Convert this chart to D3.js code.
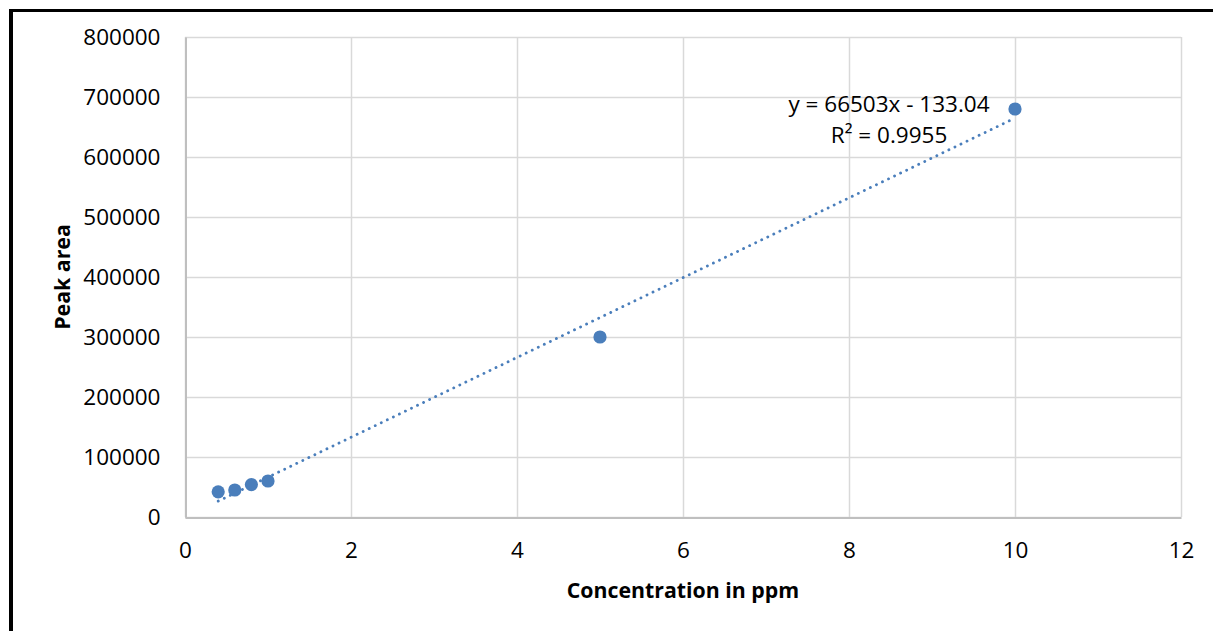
<!DOCTYPE html>
<html>
<head>
<meta charset="utf-8">
<script src="https://cdn.jsdelivr.net/npm/d3@7"></script>
<style>
  body { margin: 0; background: #fff; }
  svg { display: block; font-family: "Open Sans", sans-serif; }
</style>
</head>
<body>
<svg width="1213" height="631"></svg>
<script>
// data
var concentration = [0.4, 0.6, 0.8, 1, 5, 10];
var peakArea = [42000, 45000, 54000, 60000, 300000, 680000];
var xTicks = [0, 2, 4, 6, 8, 10, 12];
var yTicks = [0, 100000, 200000, 300000, 400000, 500000, 600000, 700000, 800000];
var trendSlope = 66503, trendIntercept = -133.04;
var equationLines = ["y = 66503x - 133.04", "R² = 0.9955"];

var svg = d3.select('svg');

var x = d3.scaleLinear().domain([0, 12]).range([185, 1181]);
var y = d3.scaleLinear().domain([0, 800000]).range([517, 37]);

// outer frame (runs off right/bottom)
svg.append('line').attr('x1', 11).attr('x2', 11).attr('y1', 9).attr('y2', 640)
    .attr('stroke', '#000').attr('stroke-width', 4);
svg.append('line').attr('x1', 9).attr('x2', 1220).attr('y1', 10.5).attr('y2', 10.5)
    .attr('stroke', '#000').attr('stroke-width', 3);

// gridlines
svg.append('g').selectAll('line').data(xTicks).join('line')
    .attr('x1', d => Math.round(x(d)) + 0.5).attr('x2', d => Math.round(x(d)) + 0.5)
    .attr('y1', y(800000)).attr('y2', y(0))
    .attr('stroke', '#d9d9d9').attr('stroke-width', 1.5);
svg.append('g').selectAll('line').data(yTicks).join('line')
    .attr('y1', d => Math.round(y(d)) + 0.5).attr('y2', d => Math.round(y(d)) + 0.5)
    .attr('x1', x(0)).attr('x2', x(12))
    .attr('stroke', '#d9d9d9').attr('stroke-width', 1.5);

// axes
var xAxis = svg.append('g').attr('transform', 'translate(0,' + (y(0) + 0.5) + ')')
    .call(d3.axisBottom(x).tickValues(xTicks).tickSize(0).tickPadding(25));
var yAxis = svg.append('g').attr('transform', 'translate(' + (x(0) + 0.5) + ',0)')
    .call(d3.axisLeft(y).tickValues(yTicks).tickFormat(d3.format('d')).tickSize(0).tickPadding(25));
[xAxis, yAxis].forEach(function(a) {
    a.select('.domain').attr('stroke', '#bfbfbf').attr('stroke-width', 2);
    a.selectAll('text').attr('font-family', '"Open Sans", sans-serif')
        .attr('font-size', 22.5).attr('fill', '#000');
});

// axis titles
svg.append('text').text('Concentration in ppm')
    .attr('x', (x(0) + x(12)) / 2).attr('y', 598)
    .attr('text-anchor', 'middle').attr('font-weight', 'bold').attr('font-size', 21.3);
svg.append('text').text('Peak area')
    .attr('transform', 'translate(70,' + (y(400000)) + ') rotate(-90)')
    .attr('text-anchor', 'middle').attr('font-weight', 'bold').attr('font-size', 21.3);

// linear trendline
var xr = d3.extent(concentration);
svg.append('path')
    .attr('d', d3.line()(xr.map(d => [x(d), y(trendSlope * d + trendIntercept)])))
    .attr('fill', 'none').attr('stroke', '#4a7ebb').attr('stroke-width', 2.8)
    .attr('stroke-linecap', 'round').attr('stroke-dasharray', '0.1,6.6');

// points
svg.append('g').selectAll('circle').data(concentration).join('circle')
    .attr('cx', d => x(d)).attr('cy', (d, i) => y(peakArea[i]))
    .attr('r', 6.6).attr('fill', '#4a7ebb');

// equation label
var eq = svg.append('text').attr('text-anchor', 'middle').attr('font-size', 22.5).attr('fill', '#000');
eq.selectAll('tspan').data(equationLines).join('tspan')
    .attr('x', 889).attr('y', (d, i) => 112 + i * 31).text(d => d);
</script>
</body>
</html>
